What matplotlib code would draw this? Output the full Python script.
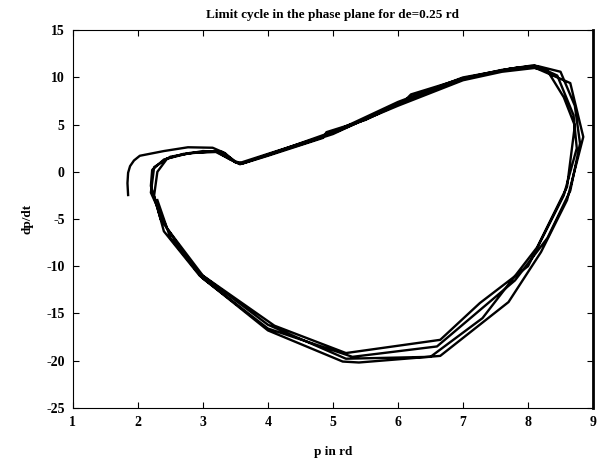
import matplotlib.pyplot as plt

plt.rcParams['font.family'] = ['Liberation Serif', 'DejaVu Serif']
plt.rcParams['font.weight'] = 'bold'
plt.rcParams['axes.unicode_minus'] = False

# trajectory in the (p, dp/dt) plane, one list per pass around the cycle
p_start = [1.85, 1.84, 1.85, 1.88, 1.94, 2.03, 2.40, 2.77, 3.15, 3.34, 3.49]
dp_start = [-2.46, -1.20, -0.10, 0.60, 1.20, 1.70, 2.20, 2.60, 2.55, 1.98, 1.03]

p_loop1 = [3.60, 4.00, 4.85, 4.90, 5.50, 6.10, 6.20, 7.00, 7.60, 8.05, 8.65, 8.85,
           8.60, 8.20, 7.70, 6.65, 5.40, 5.15, 4.00, 2.95, 2.40, 2.25, 2.30, 2.45,
           2.80, 3.20, 3.40]
dp_loop1 = [0.85, 1.70, 3.60, 4.20, 5.50, 7.50, 8.20, 9.90, 10.80, 11.20, 9.40, 3.70,
            -3.00, -8.50, -13.80, -19.50, -20.20, -20.10, -16.80, -11.00, -6.30, -2.50, 0.00, 1.40,
            2.00, 2.10, 1.40]

p_loop2 = [3.55, 4.00, 5.00, 6.00, 7.00, 7.60, 8.10, 8.30, 8.55, 8.72, 8.60, 8.14,
           7.30, 6.50, 5.20, 4.00, 2.90, 2.35, 2.20, 2.22, 2.40, 2.70, 3.20, 3.42]
dp_loop2 = [0.90, 1.90, 4.10, 7.00, 9.70, 10.60, 11.00, 10.70, 7.90, 4.90, -1.60, -8.00,
            -15.50, -19.60, -19.80, -16.20, -10.50, -5.00, -1.50, 0.20, 1.30, 1.90, 2.20, 1.30]

p_loop3 = [3.57, 4.10, 5.00, 6.00, 7.00, 7.70, 8.10, 8.45, 8.70, 8.75, 8.55, 8.00,
           7.26, 6.65, 5.20, 4.10, 3.00, 2.45, 2.20, 2.25, 2.50, 3.00, 3.30, 3.50]
dp_loop3 = [0.80, 2.00, 4.00, 7.20, 9.80, 10.90, 11.30, 10.20, 6.00, 2.50, -2.50, -10.00,
            -13.90, -17.80, -19.20, -16.30, -11.00, -6.00, -2.20, 0.50, 1.60, 2.20, 2.10, 1.10]

p_loop4 = [3.60, 4.20, 5.10, 6.00, 7.00, 7.80, 8.15, 8.50, 8.72, 8.80, 8.65, 8.30,
           7.80, 6.60, 5.30, 4.00, 3.00, 2.50, 2.30]
dp_loop4 = [0.90, 2.30, 4.50, 7.40, 10.00, 11.00, 11.20, 10.60, 7.00, 3.00, -2.00, -7.00,
            -11.50, -18.50, -19.60, -16.60, -11.30, -7.00, -3.00]

p = p_start + p_loop1 + p_loop2 + p_loop3 + p_loop4
dp = dp_start + dp_loop1 + dp_loop2 + dp_loop3 + dp_loop4

fig = plt.figure(figsize=(6.07, 4.65), dpi=100)
ax = fig.add_axes([0.120, 0.123, 0.857, 0.812])

ax.plot(p, dp, color='black', linewidth=1.7, solid_joinstyle='round')

ax.set_xlim(1, 9)
ax.set_ylim(-25, 15)
ax.set_xticks(range(1, 10))
ax.set_yticks(range(-25, 16, 5))
ax.tick_params(direction='in', length=4, top=True, right=True, labelsize=10, width=0.8, pad=6)
for s in ax.spines.values():
    s.set_linewidth(0.8)
ax.spines['right'].set_linewidth(2.0)

ax.set_title('Limit cycle in the phase plane for de=0.25 rd', fontsize=9.5, fontweight='bold', pad=9)
ax.set_xlabel('p in rd', fontsize=9.5, fontweight='bold', labelpad=12)
ax.set_ylabel('dp/dt', fontsize=9.5, fontweight='bold', labelpad=9)

fig.savefig('out.png', dpi=100)
